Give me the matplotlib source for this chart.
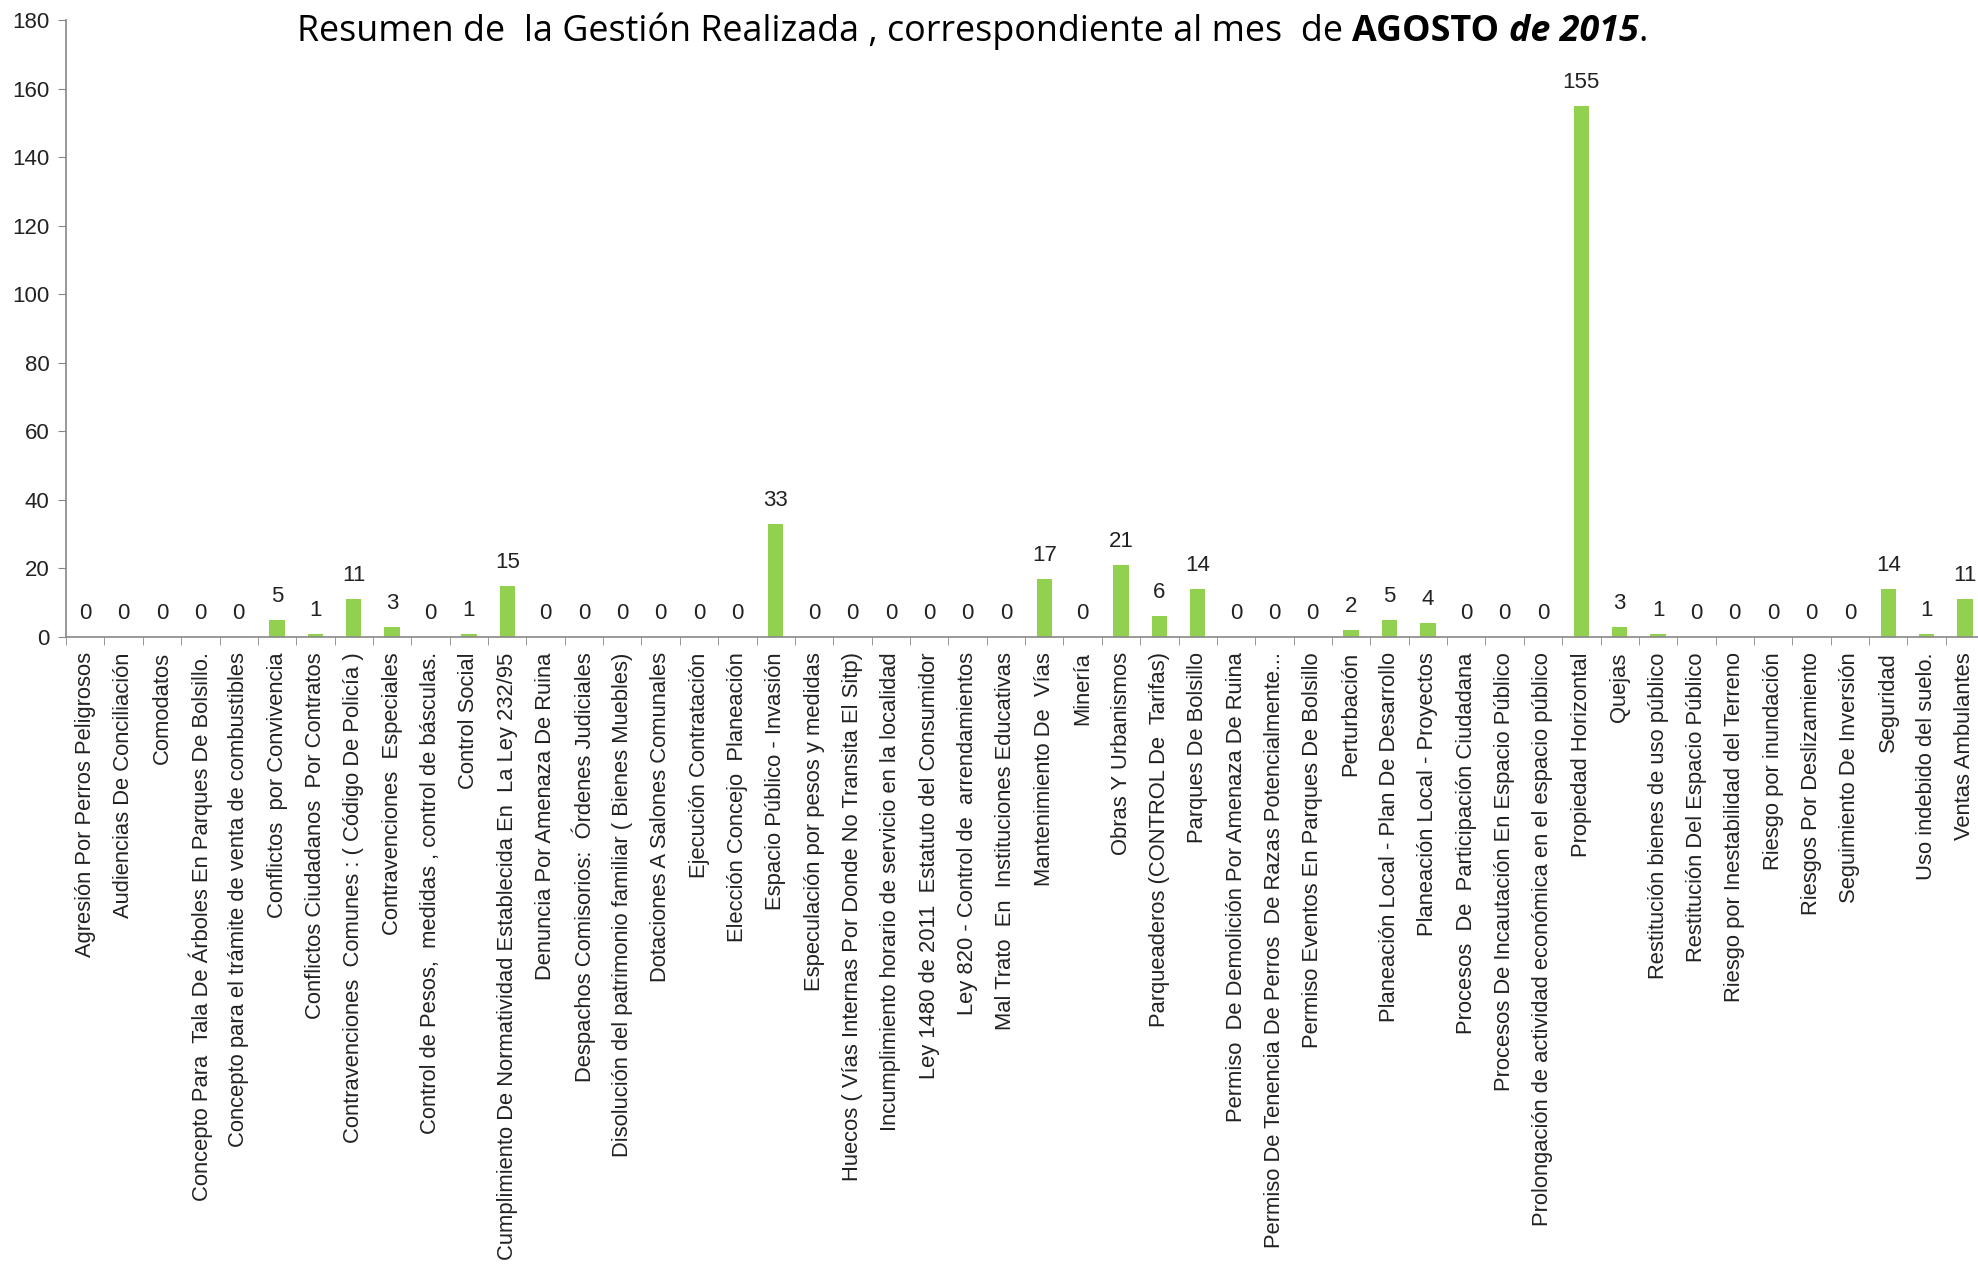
import matplotlib.pyplot as plt
import numpy as np

# categories and counts, August 2015
categorias = [
    "Agresión Por Perros Peligrosos",
    "Audiencias De Conciliación",
    "Comodatos",
    "Concepto Para  Tala De Árboles En Parques De Bolsillo.",
    "Concepto para el trámite de venta de combustibles",
    "Conflictos  por Convivencia",
    "Conflictos Ciudadanos  Por Contratos",
    "Contravenciones  Comunes : ( Código De Policía )",
    "Contravenciones  Especiales",
    "Control de Pesos,  medidas , control de básculas.",
    "Control Social",
    "Cumplimiento De Normatividad Establecida En  La Ley 232/95",
    "Denuncia Por Amenaza De Ruina",
    "Despachos Comisorios:  Órdenes Judiciales",
    "Disolución del patrimonio familiar ( Bienes Muebles)",
    "Dotaciones A Salones Comunales",
    "Ejecución Contratación",
    "Elección Concejo  Planeación",
    "Espacio Público - Invasión",
    "Especulación por pesos y medidas",
    "Huecos ( Vías Internas Por Donde No Transita El Sitp)",
    "Incumplimiento horario de servicio en la localidad",
    "Ley 1480 de 2011  Estatuto del Consumidor",
    "Ley 820 - Control de  arrendamientos",
    "Mal Trato  En  Instituciones Educativas",
    "Mantenimiento De  Vías",
    "Minería",
    "Obras Y Urbanismos",
    "Parqueaderos (CONTROL De  Tarifas)",
    "Parques De Bolsillo",
    "Permiso  De Demolición Por Amenaza De Ruina",
    "Permiso De Tenencia De Perros  De Razas Potencialmente...",
    "Permiso Eventos En Parques De Bolsillo",
    "Perturbación",
    "Planeación Local - Plan De Desarrollo",
    "Planeación Local - Proyectos",
    "Procesos  De  Participación Ciudadana",
    "Procesos De Incautación En Espacio Público",
    "Prolongación de actividad económica en el espacio público",
    "Propiedad Horizontal",
    "Quejas",
    "Restitución bienes de uso público",
    "Restitución Del Espacio Público",
    "Riesgo por Inestabilidad del Terreno",
    "Riesgo por inundación",
    "Riesgos Por Deslizamiento",
    "Seguimiento De Inversión",
    "Seguridad",
    "Uso indebido del suelo.",
    "Ventas Ambulantes",
]
valores = [0, 0, 0, 0, 0, 5, 1, 11, 3, 0,
           1, 15, 0, 0, 0, 0, 0, 0, 33, 0,
           0, 0, 0, 0, 0, 17, 0, 21, 6, 14,
           0, 0, 0, 2, 5, 4, 0, 0, 0, 155,
           3, 1, 0, 0, 0, 0, 0, 14, 1, 11]
y_ticks = [0, 20, 40, 60, 80, 100, 120, 140, 160, 180]

narrow = ["Liberation Sans Narrow", "Liberation Sans"]

fig = plt.figure(figsize=(19.78, 12.68), dpi=100)
ax = fig.add_axes([0.0334, 0.4976, 0.9697, 0.4866])

x = np.arange(len(categorias))
ax.bar(x, valores, width=0.4, color="#92D050")

for xi, v in zip(x, valores):
    ax.annotate(str(v), (xi, v), xytext=(0, 17), textcoords="offset points",
                ha="center", va="center", fontsize=16, family=narrow,
                color="#222222")

ax.set_xlim(-0.5, len(categorias) - 0.5)
ax.set_ylim(0, 180)
ax.set_yticks(y_ticks)
ax.set_yticklabels([str(t) for t in y_ticks], fontsize=16, family=narrow,
                   color="#222222")

ax.set_xticks(x)
ax.set_xticklabels(categorias, rotation=90, fontsize=15.8, family=narrow,
                   color="#222222")
ax.set_xticks(np.arange(len(categorias) + 1) - 0.5, minor=True)
ax.tick_params(axis="x", which="major", length=0, pad=11)
ax.tick_params(axis="x", which="minor", length=6, color="#888888")
ax.tick_params(axis="y", length=6, color="#888888", pad=6)

for s in ["top", "right"]:
    ax.spines[s].set_visible(False)
for s in ["left", "bottom"]:
    ax.spines[s].set_color("#888888")
    ax.spines[s].set_linewidth(1.2)

# title in runs: normal, bold, bold italic
partes = [("Resumen de  la Gestión Realizada , correspondiente al mes  de ", "normal", "normal"),
          ("AGOSTO ", "bold", "normal"),
          ("de 2015", "bold", "italic"),
          (".", "normal", "normal")]
textos = []
for txt, w, st in partes:
    textos.append(fig.text(0, 0.975, txt, ha="left", va="center", fontsize=25.8,
                           family="Open Sans", weight=w, style=st))
fig.canvas.draw()
r = fig.canvas.get_renderer()
anchos = [t.get_window_extent(r).width / fig.bbox.width for t in textos]
pos = 0.4915 - sum(anchos) / 2
for t, a in zip(textos, anchos):
    t.set_x(pos)
    pos += a

fig.savefig("out.png", dpi=100)
